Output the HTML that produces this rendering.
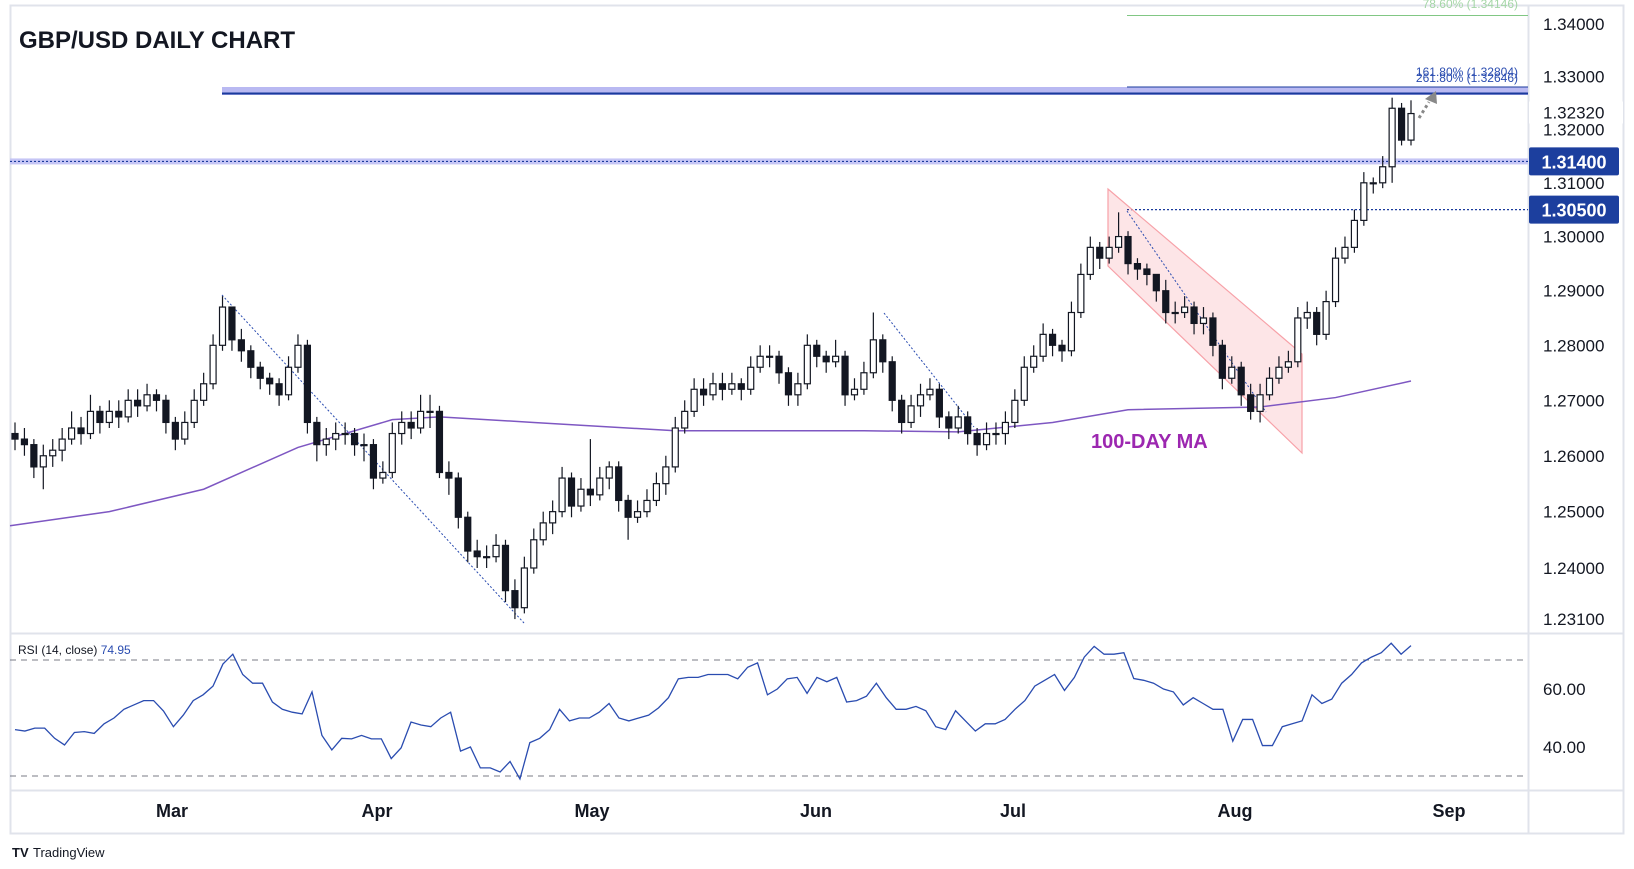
<!DOCTYPE html>
<html><head><meta charset="utf-8">
<style>
html,body{margin:0;padding:0;background:#fff;}
svg{display:block;font-family:"Liberation Sans",sans-serif;}
</style></head>
<body>
<svg id="chart" width="1634" height="869" viewBox="0 0 1634 869" xmlns="http://www.w3.org/2000/svg">
<rect x="0" y="0" width="1634" height="869" fill="#fff"/>
<g id="frame">
<rect x="10.5" y="5.5" width="1613" height="828" fill="none" stroke="#e0e3eb" stroke-width="2"/>
<line x1="1528.5" y1="5" x2="1528.5" y2="833" stroke="#e0e3eb" stroke-width="2"/>
<line x1="10" y1="633.5" x2="1623" y2="633.5" stroke="#e0e3eb" stroke-width="2"/>
<line x1="10" y1="790.5" x2="1623" y2="790.5" stroke="#e0e3eb" stroke-width="2"/>
</g>
<g id="annot"></g>
<g id="ma"></g>
<g id="candles"></g>
<g id="rsi"></g>
<g id="axes"></g>
<text x="19" y="48" font-size="24" font-weight="bold" fill="#131722">GBP/USD DAILY CHART</text>
<text x="1091" y="448" font-size="20" font-weight="bold" fill="#9c27b0">100-DAY MA</text>
<text x="18" y="654" font-size="12" fill="#131722">RSI (14, close) <tspan fill="#2a4cb0">74.95</tspan></text>
<g>
<text x="12" y="857" font-size="13" font-weight="bold" fill="#131722">TV</text>
<text x="33" y="857" font-size="13" fill="#131722">TradingView</text>
</g>
</svg>
<script>
const closes=[1.263,1.262,1.258,1.260,1.261,1.263,1.265,1.264,1.268,1.266,1.268,1.267,1.270,1.269,1.271,1.270,1.266,1.263,1.266,1.270,1.273,1.280,1.287,1.281,1.279,1.276,1.274,1.273,1.271,1.276,1.280,1.266,1.262,1.263,1.264,1.264,1.262,1.262,1.256,1.257,1.264,1.266,1.265,1.268,1.268,1.257,1.256,1.249,1.243,1.242,1.242,1.244,1.236,1.233,1.240,1.245,1.248,1.250,1.256,1.251,1.254,1.253,1.256,1.258,1.252,1.249,1.250,1.252,1.255,1.258,1.265,1.268,1.272,1.271,1.273,1.272,1.273,1.272,1.276,1.278,1.278,1.275,1.271,1.273,1.280,1.278,1.277,1.278,1.271,1.272,1.275,1.281,1.277,1.270,1.266,1.269,1.271,1.272,1.267,1.265,1.267,1.264,1.262,1.264,1.264,1.266,1.270,1.276,1.278,1.282,1.280,1.279,1.286,1.293,1.298,1.296,1.298,1.300,1.295,1.294,1.293,1.290,1.286,1.286,1.287,1.284,1.285,1.280,1.274,1.276,1.271,1.268,1.271,1.274,1.276,1.277,1.285,1.286,1.282,1.288,1.296,1.298,1.303,1.310,1.310,1.313,1.324,1.318,1.323];
const highs=[1.266,1.265,1.263,1.262,1.263,1.265,1.268,1.267,1.271,1.269,1.270,1.270,1.272,1.272,1.273,1.272,1.271,1.267,1.268,1.272,1.275,1.282,1.289,1.287,1.283,1.280,1.277,1.275,1.274,1.278,1.282,1.281,1.267,1.265,1.266,1.266,1.265,1.264,1.263,1.259,1.266,1.268,1.268,1.271,1.271,1.269,1.259,1.257,1.250,1.245,1.244,1.246,1.245,1.238,1.242,1.247,1.250,1.252,1.258,1.257,1.256,1.263,1.258,1.259,1.259,1.253,1.252,1.254,1.257,1.260,1.267,1.270,1.274,1.274,1.275,1.275,1.275,1.274,1.278,1.280,1.280,1.279,1.276,1.275,1.282,1.281,1.279,1.281,1.279,1.274,1.277,1.286,1.282,1.278,1.271,1.271,1.273,1.274,1.273,1.268,1.269,1.268,1.265,1.266,1.266,1.268,1.272,1.278,1.280,1.284,1.283,1.281,1.288,1.295,1.300,1.299,1.300,1.3045,1.301,1.296,1.295,1.293,1.292,1.288,1.289,1.288,1.287,1.286,1.281,1.278,1.277,1.273,1.273,1.276,1.278,1.279,1.287,1.288,1.287,1.290,1.298,1.300,1.305,1.312,1.311,1.315,1.326,1.325,1.3255];
const lows=[1.261,1.260,1.256,1.254,1.258,1.259,1.262,1.262,1.263,1.264,1.265,1.265,1.266,1.267,1.268,1.268,1.264,1.261,1.262,1.265,1.269,1.272,1.279,1.279,1.277,1.274,1.272,1.271,1.269,1.270,1.275,1.264,1.259,1.260,1.261,1.262,1.260,1.259,1.254,1.255,1.256,1.262,1.263,1.264,1.265,1.256,1.253,1.247,1.241,1.240,1.240,1.241,1.234,1.231,1.232,1.239,1.244,1.246,1.249,1.249,1.250,1.251,1.252,1.254,1.250,1.245,1.248,1.249,1.251,1.253,1.257,1.264,1.267,1.269,1.270,1.270,1.271,1.270,1.271,1.275,1.276,1.273,1.269,1.269,1.272,1.276,1.275,1.276,1.269,1.270,1.271,1.274,1.275,1.268,1.264,1.265,1.267,1.270,1.265,1.263,1.264,1.262,1.260,1.261,1.262,1.262,1.265,1.269,1.275,1.277,1.278,1.277,1.278,1.285,1.292,1.294,1.295,1.297,1.293,1.292,1.291,1.288,1.284,1.284,1.285,1.282,1.282,1.278,1.272,1.273,1.269,1.2665,1.266,1.270,1.273,1.275,1.276,1.283,1.280,1.281,1.287,1.295,1.297,1.302,1.308,1.309,1.310,1.317,1.317];
const firstOpen=1.264;
const maIdx=[0,10,20,30,40,45,55,70,90,100,110,118,132,140,148];
const maVals=[1.2475,1.250,1.254,1.2615,1.2665,1.267,1.266,1.2645,1.2645,1.2643,1.2660,1.2683,1.2688,1.2705,1.2735];
const rsiVals=[46,45.5,46.5,46.5,43,40.7,45,45.3,44.7,48,50,53,54.5,56,56,52.4,47,51,56,58,61,68.6,72,65,62,62,55.5,53,52,51.4,59,44,39,43,42.8,44,42.8,42.8,36,39.7,48.6,47.6,47,50,52,38.6,40,32.8,32.8,31.4,35,29,41.5,43,46,53,49,50,50,52,55,50,49,50,51,53.5,57,63.5,64,64,65,65,65,63.5,67.5,69,58,60,63.5,64,58.5,64,62.5,64,55.5,56,57.5,62,57,53,53,54,52.5,47,46,52.5,49,45.5,48,48,49.5,53,56,61,63,65,59.5,64,71,74.7,72,72,72.5,63.6,63,62,60,59,54.5,57,55,53,53,42,49.5,49.5,40.5,40.5,47,48,49,58,55,56.5,62,65,69,71,72.5,75.8,72,74.95];
const priceTicks=[1.34,1.33,1.32,1.31,1.30,1.29,1.28,1.27,1.26,1.25,1.24];
const rsiTicks=[60,40];
const monthLabels=["Mar","Apr","May","Jun","Jul","Aug","Sep"];
const monthX=[172,377,592,816,1013,1235,1449];
const levels=[1.314,1.305];
const currentPrice=1.3232;
const lowPrice=1.231;

const NS="http://www.w3.org/2000/svg";
function mk(tag,attrs,parent){const e=document.createElementNS(NS,tag);for(const k in attrs)e.setAttribute(k,attrs[k]);parent.appendChild(e);return e;}
const X0=15,X1=1411;
function xBar(i){return X0+i*(X1-X0)/(closes.length-1);}
function xR(i){return X0+i*(X1-X0)/(rsiVals.length-1);}
function yP(p){return 24+(Math.log(1.34)-Math.log(p))*7014;}
function yR(v){return 660+(70-v)*2.9;}

const ann=document.getElementById('annot');
let e=mk('line',{x1:1127,y1:15.5,x2:1528,y2:15.5,stroke:'#81c784','stroke-width':1},ann);

e=mk('text',{x:1518,y:8,'font-size':12,fill:'#a5d6a7','text-anchor':'end'},ann);e.textContent='78.60% (1.34146)';

e=mk('rect',{x:222,y:87,width:1306,height:8,fill:'#b9b9f2'},ann);

e=mk('line',{x1:222,y1:93.5,x2:1528,y2:93.5,stroke:'#1a3a9c','stroke-width':2},ann);

e=mk('line',{x1:1127,y1:87,x2:1528,y2:87,stroke:'#1a3a9c','stroke-width':1},ann);

e=mk('text',{x:1518,y:76,'font-size':12,fill:'#2a4cb0','text-anchor':'end'},ann);e.textContent='161.80% (1.32804)';

e=mk('text',{x:1518,y:82,'font-size':12,fill:'#2a4cb0','text-anchor':'end'},ann);e.textContent='261.80% (1.32646)';

e=mk('rect',{x:10,y:yP(levels[0])-3,width:1518,height:6,fill:'#c5c5f5'},ann);

e=mk('line',{x1:10,y1:yP(levels[0]),x2:1528,y2:yP(levels[0]),stroke:'#1a3a9c','stroke-width':1.2,'stroke-dasharray':'2 2'},ann);

e=mk('line',{x1:1127,y1:yP(levels[1]),x2:1528,y2:yP(levels[1]),stroke:'#1a3a9c','stroke-width':1.2,'stroke-dasharray':'2 2'},ann);

e=mk('polygon',{points:'1108,189 1302,354 1302,453 1108,266',fill:'rgba(242,54,69,0.13)',stroke:'#f7a1a8','stroke-width':1.2},ann);

[[222,295,524,623,'trendline-mar-apr'],[884,313,974,427,'trendline-jun'],[1127,211,1266,412,'trendline-jul-aug']].forEach(t=>{
 const l=mk('line',{x1:t[0],y1:t[1],x2:t[2],y2:t[3],stroke:'#2a4cb0','stroke-width':1,'stroke-dasharray':'2 2'},ann);
 
 
});
e=mk('line',{x1:1419,y1:118,x2:1429,y2:102,stroke:'#888','stroke-width':3,'stroke-dasharray':'3 3'},ann);

e=mk('polygon',{points:'1436,91 1437,104 1425,99',fill:'#888'},ann);


const maG=document.getElementById('ma');
let pts=maIdx.map((ix,k)=>(ix===0?10:xBar(ix))+','+yP(maVals[k])).join(' ');
e=mk('polyline',{points:pts,fill:'none',stroke:'#7e57c2','stroke-width':1.5},maG);


const cg=document.getElementById('candles');
const bw=6;
closes.forEach((c,i)=>{
 const o=i===0?firstOpen:closes[i-1];
 const x=xBar(i);const up=c>=o;
 const g=mk('g',{},cg);
 
 
 mk('line',{x1:x,y1:yP(highs[i]),x2:x,y2:yP(lows[i]),stroke:'#131722','stroke-width':1.2},g);
 const yt=yP(Math.max(o,c)),yb=yP(Math.min(o,c));
 mk('rect',{x:x-bw/2,y:yt,width:bw,height:Math.max(1,yb-yt),fill:up?'#fff':'#131722',stroke:'#131722','stroke-width':1.2},g);
});

const rg=document.getElementById('rsi');
[70,30].forEach(v=>{
 const l=mk('line',{x1:10,y1:yR(v),x2:1528,y2:yR(v),stroke:'#787b86','stroke-width':1,'stroke-dasharray':'6 5'},rg);
 
 
});
pts=rsiVals.map((v,i)=>xR(i)+','+yR(v)).join(' ');
e=mk('polyline',{points:pts,fill:'none',stroke:'#2a4cb0','stroke-width':1.3},rg);


const ag=document.getElementById('axes');
priceTicks.forEach(p=>{
 const t=mk('text',{x:1543,y:yP(p)+6,'font-size':17,fill:'#131722'},ag);t.textContent=p.toFixed(5);
 
 
});
e=mk('rect',{x:1529,y:yP(currentPrice)-11,width:94,height:22,fill:'#fff'},ag);

e=mk('text',{x:1543,y:yP(currentPrice)+6,'font-size':17,fill:'#131722'},ag);e.textContent=currentPrice.toFixed(5);

e=mk('text',{x:1543,y:yP(lowPrice)+6,'font-size':17,fill:'#131722'},ag);e.textContent=lowPrice.toFixed(5);

levels.forEach(p=>{
 const r=mk('rect',{x:1529,y:yP(p)-14,width:90,height:28,fill:'#1c3f9e',rx:2},ag);
 
 
 const t=mk('text',{x:1574,y:yP(p)+7,'font-size':18,'font-weight':'bold',fill:'#fff','text-anchor':'middle'},ag);t.textContent=p.toFixed(5);
 
 
});
rsiTicks.forEach(v=>{
 const t=mk('text',{x:1543,y:yR(v)+6,'font-size':17,fill:'#131722'},ag);t.textContent=v.toFixed(2);
 
 
});
monthLabels.forEach((m,k)=>{
 const t=mk('text',{x:monthX[k],y:817,'font-size':18,'font-weight':'bold',fill:'#131722','text-anchor':'middle'},ag);t.textContent=m;
 
 
});
</script>
</body></html>
